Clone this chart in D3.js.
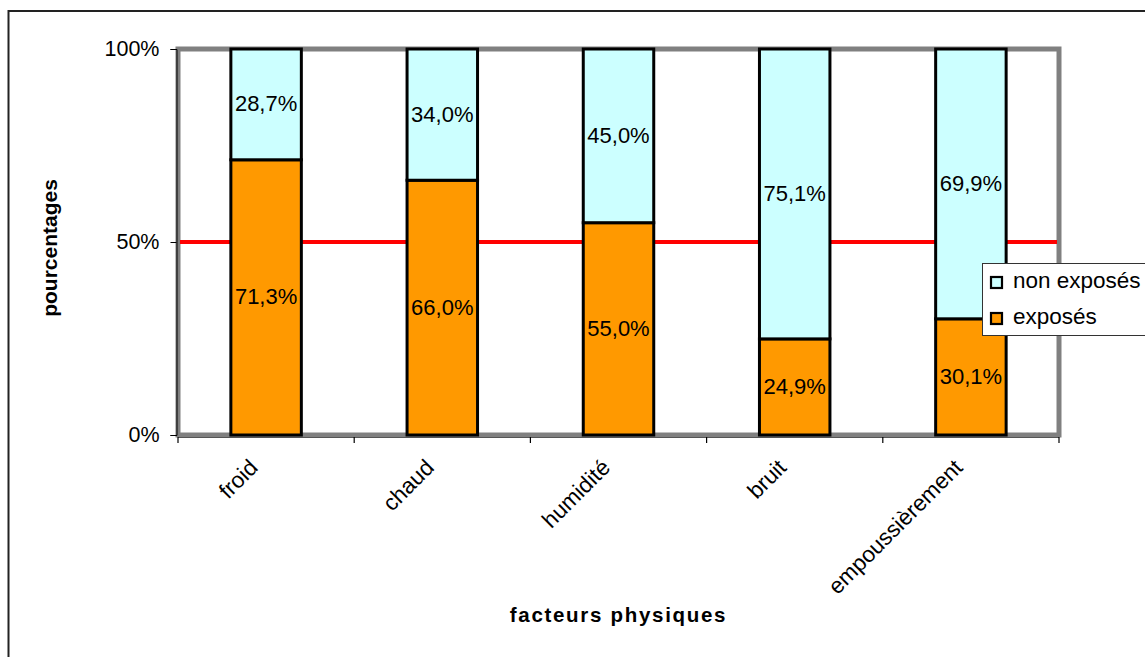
<!DOCTYPE html>
<html><head><meta charset="utf-8">
<script src="https://cdn.jsdelivr.net/npm/d3@7"></script>
<style>body{margin:0;background:#fff}svg{display:block}text{font-family:"Liberation Sans",Arial,sans-serif}</style>
</head><body>
<svg id="c" width="1145" height="657"></svg>
<script>
const categories = ["froid","chaud","humidité","bruit","empoussièrement"];
const exposes = [71.3, 66.0, 55.0, 24.9, 30.1];
const nonExposes = [28.7, 34.0, 45.0, 75.1, 69.9];
const yTicks = [0, 50, 100];
const seriesNames = ["non exposés","exposés"];
const seriesColors = ["#ccffff","#ff9900"];
const refLine = 50;

const svg = d3.select("#c");
const L=178, R=1059, T=49, B=435;
const x = d3.scaleBand().domain(categories).range([L,R]).paddingInner(0.6).paddingOuter(0.3);
const y = d3.scaleLinear().domain([0,100]).range([B,T]);
const fmt = v => d3.format(".1f")(v).replace(".", ",") + "%";

// outer frame
svg.append("rect").attr("x",8.5).attr("y",11).attr("width",1160).attr("height",700)
  .attr("fill","none").attr("stroke","#222").attr("stroke-width",2);

// plot frame (gray)
svg.append("rect").attr("x",L).attr("y",T).attr("width",R-L).attr("height",B-T)
  .attr("fill","#fff").attr("stroke","#808080").attr("stroke-width",5);

// reference line
svg.append("line").attr("x1",L+2).attr("x2",R-2).attr("y1",y(refLine)).attr("y2",y(refLine))
  .attr("stroke","#ff0000").attr("stroke-width",4);

// y axis
const yAxis = d3.axisLeft(y).tickValues(yTicks).tickSize(6).tickFormat(d=>d+"%").tickPadding(11);
const gy = svg.append("g").attr("transform",`translate(${L-1.5},0)`).call(yAxis);
gy.select(".domain").attr("stroke","#000").attr("stroke-width",1);
gy.selectAll(".tick line").attr("stroke","#000");
gy.selectAll(".tick text").attr("font-size",21.5).attr("fill","#000").attr("font-family","Liberation Sans, Arial, sans-serif").attr("dy","0.32em");

// x axis ticks at band boundaries
const step = x.step();
const bounds = d3.range(categories.length+1).map(i => L + i*step);
svg.append("line").attr("x1",L).attr("x2",R).attr("y1",B+2.5).attr("y2",B+2.5).attr("stroke","#555").attr("stroke-width",1);
svg.selectAll(".xt").data(bounds).enter().append("line")
  .attr("x1",d=>d).attr("x2",d=>d).attr("y1",B+2).attr("y2",B+8).attr("stroke","#000").attr("stroke-width",1.2);

// bars
const rows = categories.map((c,i)=>({c, e:exposes[i], n:nonExposes[i]}));
const g = svg.append("g");
rows.forEach(r=>{
  const bx = x(r.c), bw = x.bandwidth();
  g.append("rect").attr("x",bx).attr("y",y(r.e)).attr("width",bw).attr("height",y(0)-y(r.e))
    .attr("fill",seriesColors[1]).attr("stroke","#000").attr("stroke-width",3);
  g.append("rect").attr("x",bx).attr("y",y(r.e+r.n)).attr("width",bw).attr("height",y(r.e)-y(r.e+r.n))
    .attr("fill",seriesColors[0]).attr("stroke","#000").attr("stroke-width",3);
  g.append("text").attr("x",bx+bw/2).attr("y",(y(0)+y(r.e))/2+7).attr("text-anchor","middle")
    .attr("font-size",22).text(fmt(r.e));
  g.append("text").attr("x",bx+bw/2).attr("y",(y(r.e)+y(r.e+r.n))/2+7).attr("text-anchor","middle")
    .attr("font-size",22).text(fmt(r.n));
});

// x labels
svg.selectAll(".xl").data(categories).enter().append("text")
  .attr("transform",d=>`translate(${x(d)+x.bandwidth()/2-7},469) rotate(-45)`)
  .attr("text-anchor","end").attr("font-size",22.5).text(d=>d);

// axis titles
svg.append("text").attr("transform","translate(57,248) rotate(-90)").attr("text-anchor","middle")
  .attr("font-size",21).attr("font-weight","bold").text("pourcentages");
svg.append("text").attr("x",(L+R)/2).attr("y",622).attr("text-anchor","middle")
  .attr("font-size",20.5).attr("font-weight","bold").attr("letter-spacing","1.7px").text("facteurs physiques");

// legend
const lg = svg.append("g");
lg.append("rect").attr("x",982.5).attr("y",263.5).attr("width",200).attr("height",72)
  .attr("fill","#fff").attr("stroke","#333").attr("stroke-width",1);
seriesNames.forEach((s,i)=>{
  const yy = 277 + i*36;
  lg.append("rect").attr("x",991).attr("y",yy).attr("width",11).attr("height",11)
    .attr("fill",seriesColors[i]).attr("stroke","#000").attr("stroke-width",2.2);
  lg.append("text").attr("x",1013).attr("y",yy+11).attr("font-size",22.5).text(s);
});
</script>
</body></html>
